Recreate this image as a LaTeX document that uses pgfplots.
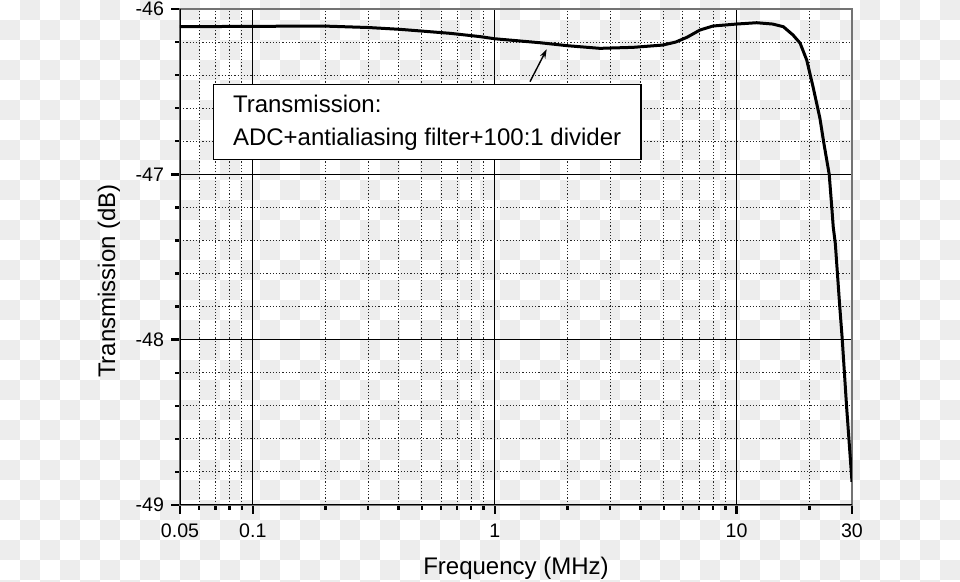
\documentclass[border=0pt]{standalone}
\usepackage{fontspec}
\setmainfont{Liberation Sans}
\usepackage{pgfplots}
\pgfplotsset{compat=1.18}
\usetikzlibrary{arrows.meta}
\definecolor{ckgray}{HTML}{EDEDED}
\begin{document}
\begin{tikzpicture}
\useasboundingbox (-90bp,-38.5bp) rectangle (390bp,252.5bp);
% transparency checkerboard behind the chart
\foreach \i in {0,...,47}{
  \foreach \j in {0,...,29}{
    \pgfmathtruncatemacro\k{mod(\i+\j,2)}
    \ifnum\k=1
      \fill[ckgray] (-90bp+\i*10bp,252.5bp-\j*10bp) rectangle ++(10bp,-10bp);
    \fi
  }
}
\begin{axis}[
  width=336bp, height=248bp, scale only axis,
  xmode=log, xmin=0.05, xmax=30, ymin=-49, ymax=-46,
  xtick={0.05,0.1,1,10,30}, xticklabels={0.05,0.1,1,10,30},
  minor xtick={0.06,0.07,0.08,0.09,0.2,0.3,0.4,0.5,0.6,0.7,0.8,0.9,2,3,4,5,6,7,8,9,20},
  ytick={-49,-48,-47,-46}, yticklabels={-49,-48,-47,-46},
  minor ytick={-48.8,-48.6,-48.4,-48.2,-47.8,-47.6,-47.4,-47.2,-46.8,-46.6,-46.4,-46.2},
  grid=both,
  major grid style={black, line width=0.5bp, solid},
  minor grid style={black!85, line width=0.5bp, dash pattern=on 0.6bp off 1bp},
  axis line style={black!55, line width=0.8bp},
  xtick pos=bottom, ytick pos=left,
  tick align=outside,
  major tick length=4.5bp, minor tick length=2.5bp,
  tick style={black, line width=1.2bp},
  ticklabel style={font=\fontsize{9.8bp}{11bp}\selectfont},
  xticklabel style={yshift=-1.5bp},
  label style={font=\fontsize{12bp}{14bp}\selectfont},
  xlabel={Frequency (MHz)}, ylabel={Transmission (dB)},
  xlabel style={at={(axis description cs:0.5,-0.1411)}, anchor=base},
  ylabel style={at={(axis description cs:-0.1057,0.4516)}, anchor=center},
]
\addplot[black, line width=1.5bp] table {
x y
0.05 -46.107
0.1 -46.105
0.195 -46.103
0.3 -46.112
0.406 -46.123
0.653 -46.147
0.87 -46.167
1.0 -46.180
1.54 -46.204
2.0 -46.222
2.72 -46.238
3.73 -46.232
4.96 -46.218
5.6 -46.200
6.24 -46.171
7.06 -46.127
7.99 -46.103
10.0 -46.091
12.1 -46.083
14.1 -46.091
15.6 -46.107
17.1 -46.157
18.3 -46.206
19.5 -46.309
20.7 -46.47
22.1 -46.66
23.0 -46.82
24.15 -47.0
24.75 -47.20
25.1 -47.32
25.6 -47.42
26.7 -47.80
27.35 -48.0
28.5 -48.406
30 -48.86
};
\draw[line width=1.5bp, black] (rel axis cs:0,1) -- (rel axis cs:0,0) -- (rel axis cs:1,0);
\node[draw=black, line width=0.6bp, fill=white, anchor=north west,
  minimum width=213.8bp, minimum height=37.5bp, inner sep=0pt, align=left,
  font=\fontsize{12bp}{16.5bp}\selectfont]
  at (rel axis cs:0.0487,0.8482) {Transmission:\\ADC+antialiasing filter+100:1 divider};
\draw[line width=0.7bp, -{Stealth[length=4.5bp,width=3bp]}]
  (rel axis cs:0.5208,0.8534) -- (rel axis cs:0.5457,0.9188);
\end{axis}
\end{tikzpicture}
\end{document}
